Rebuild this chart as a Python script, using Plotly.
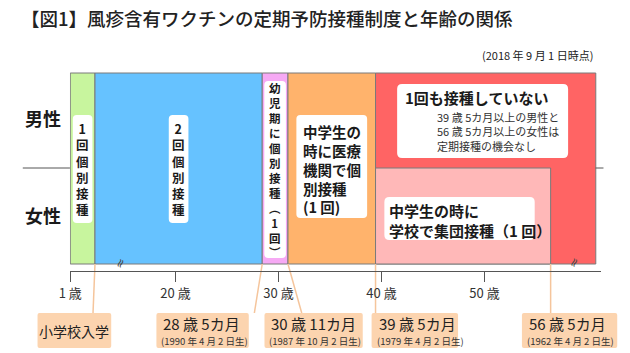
import plotly.graph_objects as go

W, H = 630, 353
FONT = "Noto Sans CJK JP"

# ---------------- data ----------------
TITLE = "【図1】風疹含有ワクチンの定期予防接種制度と年齢の関係"
AS_OF = "(2018 年 9 月 1 日時点)"
GROUPS = ["男性", "女性"]

# cohort boundaries (age in years, as of 2018-09-01)
AGE_START = 1.0
AGE_SCHOOL = 6.0              # 小学校入学
AGE_28_5 = 28 + 5 / 12        # 1990-04-02 生
AGE_30_11 = 30 + 11 / 12      # 1987-10-02 生
AGE_39_5 = 39 + 5 / 12        # 1979-04-02 生
AGE_56_5 = 56 + 5 / 12        # 1962-04-02 生

TICK_AGES = [1, 20, 30, 40, 50]
TICK_LABELS = ["1 歳", "20 歳", "30 歳", "40 歳", "50 歳"]

LABEL_GREEN = ["1", "回", "個", "別", "接", "種"]
LABEL_BLUE = ["2", "回", "個", "別", "接", "種"]
LABEL_VIOLET = ["幼", "児", "期", "に", "個", "別", "接", "種", "︵", "1", "回", "︶"]
LABEL_ORANGE = ["中学生の", "時に医療", "機関で個", "別接種", "(1 回)"]
LABEL_RED = "1回も接種していない"
LABEL_RED_NOTE = ["39 歳 5カ月以上の男性と", "56 歳 5カ月以上の女性は", "定期接種の機会なし"]
LABEL_PINK = ["中学生の時に", "学校で集団接種（1 回）"]

CALLOUT_AGES = [AGE_SCHOOL, AGE_28_5, AGE_30_11, AGE_39_5, AGE_56_5]
CALLOUT_MAIN = ["小学校入学", "28 歳 5カ月", "30 歳 11カ月", "39 歳 5カ月", "56 歳 5カ月"]
CALLOUT_SUB = ["", "(1990 年 4 月 2 日生)", "(1987 年 10 月 2 日生)",
               "(1979 年 4 月 2 日生)", "(1962 年 4 月 2 日生)"]

# ---------------- scale (broken age axis) ----------------
LEFT_BREAK_AGE = 8.0     # ages up to here drawn compressed (left of the break)
LEFT_U0 = 9.78
LEFT_K = 0.48
RIGHT_EDGE_U = 60.8      # right end of the chart (past the right break)
X_RANGE = [9.75, 61.26]
X_DOMAIN_PX = (60, 600)
AXIS_Y_PX = 271


def axis_u(age):
    if age <= LEFT_BREAK_AGE:
        return LEFT_U0 + (age - AGE_START) * LEFT_K
    return age


PX_PER_U = (X_DOMAIN_PX[1] - X_DOMAIN_PX[0]) / (X_RANGE[1] - X_RANGE[0])


def u_to_px(u):
    return X_DOMAIN_PX[0] + (u - X_RANGE[0]) * PX_PER_U


def fx(p):
    return p / W


def fy(p):
    return 1 - p / H


TOP, MID, BOT = 73, 168, 264

C_GREEN = "#c8f59e"
C_BLUE = "#66c2ff"
C_VIOLET = "#f6a9f4"
C_ORANGE = "#ffb36c"
C_RED = "#ff6464"
C_PINK = "#ffb8b8"
C_PEACH = "#fcd4af"
C_CONN = "#f5c59c"
C_EDGE = "#7a7a7a"

shapes = []
annos = []


def region(a0u, a1u, y0, y1, color):
    shapes.append(dict(type="rect", xref="x", yref="paper", x0=a0u, x1=a1u,
                       y0=fy(y1), y1=fy(y0), fillcolor=color,
                       line=dict(color=C_EDGE, width=1), layer="below"))


def rrect(x0, y0, x1, y1, r, color):
    def P(x, y):
        return f"{fx(x):.5f},{fy(y):.5f}"
    path = (f"M {P(x0 + r, y0)} L {P(x1 - r, y0)} Q {P(x1, y0)} {P(x1, y0 + r)} "
            f"L {P(x1, y1 - r)} Q {P(x1, y1)} {P(x1 - r, y1)} "
            f"L {P(x0 + r, y1)} Q {P(x0, y1)} {P(x0, y1 - r)} "
            f"L {P(x0, y0 + r)} Q {P(x0, y0)} {P(x0 + r, y0)} Z")
    shapes.append(dict(type="path", xref="paper", yref="paper", path=path,
                       fillcolor=color, line=dict(color=color, width=0), layer="below"))


def text(x, y, s, size, anchor="center", weight=500, color="#1a1a1a", align="left"):
    annos.append(dict(xref="paper", yref="paper", x=fx(x), y=fy(y), text=s,
                      showarrow=False, xanchor=anchor, yanchor="middle", align=align,
                      font=dict(family=FONT, size=size, color=color, weight=weight)))


# regions
region(axis_u(AGE_START), axis_u(AGE_SCHOOL), TOP, BOT, C_GREEN)
region(axis_u(AGE_SCHOOL), axis_u(AGE_28_5), TOP, BOT, C_BLUE)
region(axis_u(AGE_28_5), axis_u(AGE_30_11), TOP, BOT, C_VIOLET)
region(axis_u(AGE_30_11), axis_u(AGE_39_5), TOP, BOT, C_ORANGE)
region(axis_u(AGE_39_5), RIGHT_EDGE_U, TOP, BOT, C_RED)
region(axis_u(AGE_39_5), axis_u(AGE_56_5), MID, BOT, C_PINK)


def mid_px(a0, a1):
    return (u_to_px(axis_u(a0)) + u_to_px(axis_u(a1))) / 2


# vertical labels (one character per line)
cg = mid_px(AGE_START, AGE_SCHOOL)
rrect(cg - 10, 115, cg + 10, 223, 4, "white")
text(cg, 169, "<br>".join(LABEL_GREEN), 12.5, weight=700, align="center")

cb = mid_px(AGE_SCHOOL, AGE_28_5)
rrect(cb - 10, 115, cb + 10, 223, 4, "white")
text(cb, 169, "<br>".join(LABEL_BLUE), 12.5, weight=700, align="center")

cv = mid_px(AGE_28_5, AGE_30_11)
rrect(cv - 11, 81, cv + 11, 258, 4, "white")
text(cv, 170, "<br>".join(LABEL_VIOLET), 11.5, weight=700, align="center")

co = mid_px(AGE_30_11, AGE_39_5)
rrect(co - 36, 115, co + 36, 218, 4, "white")
text(co - 31, 169, "<br>".join(LABEL_ORANGE), 14.5, anchor="left", weight=700)

# red (no vaccination) box
rrect(393, 84, 567, 158, 5, "white")
text(399, 97, LABEL_RED, 15, anchor="left", weight=700)
text(432, 131, "<br>".join(LABEL_RED_NOTE), 11, anchor="left", weight=400, color="#333")

# light pink box
rrect(380, 197, 533, 240, 5, "white")
text(383, 210.5, LABEL_PINK[0], 15, anchor="left", weight=700)
text(383, 230.5, LABEL_PINK[1], 15, anchor="left", weight=700)

# group labels and divider
text(33, 118, GROUPS[0], 18, weight=700)
text(33, 215, GROUPS[1], 18, weight=700)
shapes.append(dict(type="line", xref="paper", yref="paper", x0=fx(12), x1=fx(60),
                   y0=fy(MID), y1=fy(MID), line=dict(color="#555", width=1)))
shapes.append(dict(type="line", xref="paper", yref="paper", x0=fx(595), x1=fx(603),
                   y0=fy(MID), y1=fy(MID), line=dict(color="#555", width=1)))

# axis break marks
for bx in (100, 584):
    annos.append(dict(xref="paper", yref="paper", x=fx(bx), y=fy(273), text="≈",
                      showarrow=False, textangle=-65,
                      font=dict(family="DejaVu Sans", size=12, color="#444")))

# callouts
BOX_PX = [(27, 102), (148, 242), (258, 358), (367, 455), (520, 617)]
CONN_DX = [-2, -8, 14, 0, 0]
for age, (bx0, bx1), dx, main, sub in zip(CALLOUT_AGES, BOX_PX, CONN_DX, CALLOUT_MAIN, CALLOUT_SUB):
    u = axis_u(age)
    shapes.append(dict(type="line", xref="x", yref="paper", x0=u, x1=u + dx / PX_PER_U,
                       y0=fy(BOT), y1=fy(313), line=dict(color=C_CONN, width=1.5), layer="below"))
    rrect(bx0, 313, bx1, 348, 2, C_PEACH)
    if sub:
        text(bx0 + 5, 323, main, 15, anchor="left", weight=400, color="#222")
        text(bx0 + 3, 341, sub, 9.5, anchor="left", weight=400, color="#333")
    else:
        text((bx0 + bx1) / 2, 331, main, 14, weight=400, color="#222")

# title + date
text(8, 18, TITLE, 18.5, anchor="left", weight=500, color="#222")
text(594, 55, AS_OF, 11, anchor="right", weight=400, color="#222")

fig = go.Figure()
fig.add_trace(go.Scatter(x=[axis_u(a) for a in CALLOUT_AGES], y=[0.5] * len(CALLOUT_AGES),
                         mode="markers", marker=dict(opacity=0), hoverinfo="skip", showlegend=False))

fig.update_layout(
    width=W, height=H, margin=dict(l=0, r=0, t=0, b=0),
    paper_bgcolor="white", plot_bgcolor="rgba(0,0,0,0)", showlegend=False,
    shapes=shapes, annotations=annos,
    xaxis=dict(domain=[fx(X_DOMAIN_PX[0]), fx(X_DOMAIN_PX[1])], range=X_RANGE,
               showgrid=False, zeroline=False, showline=True, linecolor="#555", linewidth=1,
               ticks="outside", ticklen=10, tickcolor="#555", tickwidth=1,
               tickvals=[axis_u(a) for a in TICK_AGES], ticktext=TICK_LABELS,
               tickfont=dict(family=FONT, size=13, color="#333"), fixedrange=True),
    yaxis=dict(domain=[1 - AXIS_Y_PX / H, 1], range=[0, 1], visible=False, fixedrange=True),
)

fig.write_html("out.html")
